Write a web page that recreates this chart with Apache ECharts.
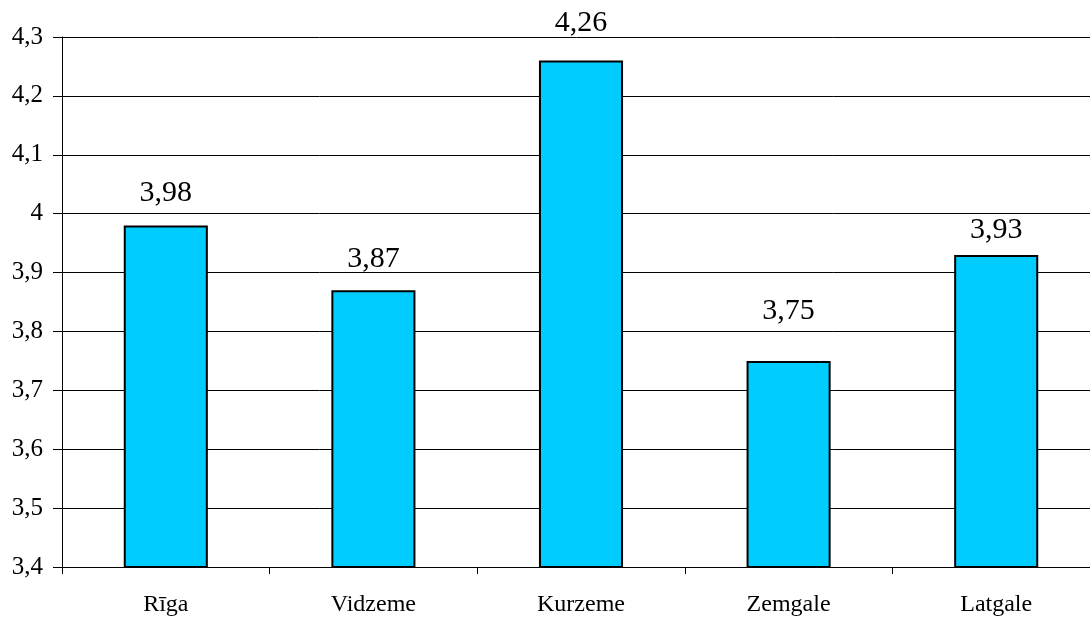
<!DOCTYPE html>
<html>
<head>
<meta charset="utf-8">
<script src="https://cdn.jsdelivr.net/npm/echarts@6/dist/echarts.min.js"></script>
<style>
  html, body { margin: 0; padding: 0; background: #fff; }
  #chart { width: 1090px; height: 619px; }
</style>
</head>
<body>
<div id="chart"></div>
<script>
// regions and their values
const regions = ['Rīga', 'Vidzeme', 'Kurzeme', 'Zemgale', 'Latgale']
const values = [3.98, 3.87, 4.26, 3.75, 3.93]
// gap between bar top and its label, as in the original (style only)
const labelGap = [17, 16, 22, 35, 10]

const fmt = (v) => String(Math.round(v * 100) / 100).replace('.', ',')

const chart = echarts.init(document.getElementById('chart'))
chart.setOption({
  animation: false,
  textStyle: { fontFamily: 'Liberation Serif' },
  // plot area runs a little past the right edge of the picture
  grid: { left: 62, top: 37, width: 1038, bottom: 52, containLabel: false, outerBoundsMode: 'none' },
  xAxis: {
    type: 'category',
    data: regions,
    axisLine: { lineStyle: { color: '#000', width: 1 } },
    axisTick: { show: true, length: 7, lineStyle: { color: '#000' } },
    axisLabel: { color: '#000', fontSize: 24, margin: 26, fontFamily: 'Liberation Serif' }
  },
  yAxis: {
    type: 'value',
    min: 3.4,
    max: 4.3,
    interval: 0.1,
    axisLine: { show: true, lineStyle: { color: '#000', width: 1 } },
    axisTick: { show: true, length: 9, lineStyle: { color: '#000' } },
    axisLabel: {
      color: '#000', fontSize: 25, margin: 19, fontFamily: 'Liberation Serif',
      formatter: (v) => fmt(v)
    },
    splitLine: { lineStyle: { color: '#000', width: 1 } }
  },
  series: [{
    type: 'bar',
    data: values.map((v, i) => ({ value: v, label: { distance: labelGap[i] } })),
    barWidth: '40.5%',
    itemStyle: { color: '#00CCFF', borderColor: '#000', borderWidth: 2 },
    label: {
      show: true,
      position: 'top',
      color: '#000',
      fontSize: 30,
      fontFamily: 'Liberation Serif',
      formatter: (p) => fmt(p.value)
    }
  }]
})
</script>
</body>
</html>
